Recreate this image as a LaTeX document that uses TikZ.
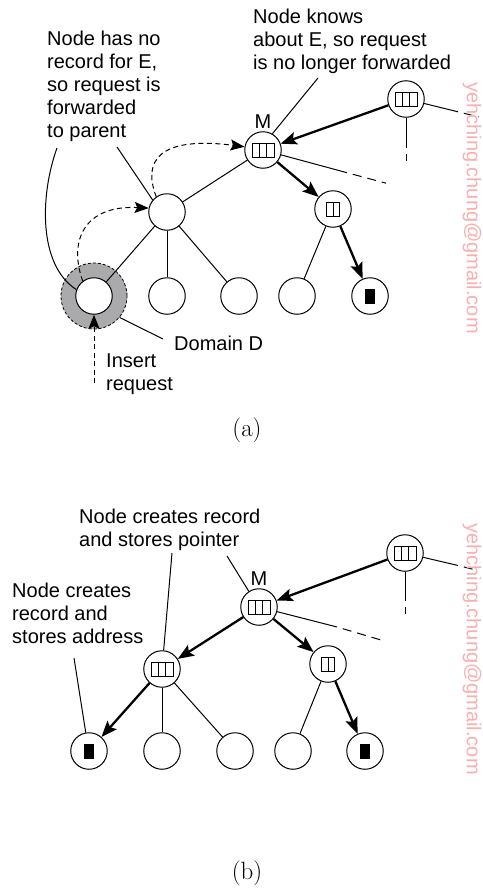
\documentclass[tikz,border=0pt]{standalone}
\usepackage{fontspec}
\newfontfamily\helv{Liberation Sans}
\usetikzlibrary{arrows.meta}
\definecolor{ringgray}{RGB}{170,170,173}
\definecolor{wmpink}{RGB}{250,175,175}
\begin{document}
\begin{tikzpicture}[x=1pt,y=-1pt,
  lbl/.style={font=\helv\fontsize{20}{23}\selectfont, inner sep=0, align=left},
  nd/.style={circle, draw, line width=1pt, fill=white, minimum size=36.5pt, inner sep=0},
  thin/.style={line width=1pt},
  tk/.style={line width=2.3pt, -{Stealth[length=16pt,width=12.5pt,inset=3pt]}},
  dsh/.style={line width=1pt, dash pattern=on 5pt off 3.5pt},
  dar/.style={dsh, -{Stealth[length=14pt,width=11pt,inset=2.5pt]}},
  tail/.style={line width=1pt, dash pattern=on 9pt off 6pt, dash phase=9pt},
  wm/.style={font=\helv\fontsize{20}{24}\selectfont, text=wmpink, rotate=-90, inner sep=0},
  captxt/.style={font=\rmfamily\fontsize{25}{29}\selectfont, inner sep=0},
  tri/.pic={\draw[line width=1pt] (-11,-7) rectangle (11,7) (-3.67,-7) -- (-3.67,7) (3.67,-7) -- (3.67,7);},
  dbl/.pic={\draw[line width=1pt] (-6.5,-7) rectangle (6.5,7) (0,-7) -- (0,7);},
  blk/.pic={\fill (-5,-7.5) rectangle (5,7.5);}
]
\useasboundingbox (0,0) rectangle (482,889);

% ================= (a) =================
\node[circle, draw, fill=ringgray, line width=0.8pt, dash pattern=on 3pt off 2pt,
      minimum size=66pt, inner sep=0] (ring) at (94,296) {};
\node[nd] (aR) at (406,99) {};  \pic at (aR) {tri};
\node[nd] (aM) at (263,150) {}; \pic at (aM) {tri};
\node[nd] (aP) at (167,212) {};
\node[nd] (aQ) at (333,209) {}; \pic at (aQ) {dbl};
\node[nd] (aL1) at (94,296) {};
\node[nd] (aL2) at (167,296) {};
\node[nd] (aL3) at (239,296) {};
\node[nd] (aL4) at (297,296) {};
\node[nd] (aL5) at (370,296) {}; \pic at (aL5) {blk};

\node[lbl, anchor=south] (aMl) at (263,129) {M};

\draw[thin] (aM) -- (aP);
\draw[thin] (aP) -- (aL1);
\draw[thin] (aP) -- (aL2);
\draw[thin] (aP) -- (aL3);
\draw[thin] (aQ) -- (aL4);
\draw[tk] (aR) -- (aM);
\draw[tk] (aM) -- (aQ);
\draw[tk] (aQ) -- (aL5);

% dangling edges
\coordinate (aMs) at (347,172.7); \coordinate (aMe) at (386,183.2);
\draw[thin] (aM) -- (aMs); \draw[tail] (aMs) -- (aMe);
\coordinate (aRs) at (458,111.8); \coordinate (aRe) at (479,117);
\draw[thin] (aR) -- (aRs); \draw[tail] (aRs) -- (aRe);
\coordinate (aRd) at (406,148); \coordinate (aRf) at (406,161);
\draw[thin] (aR) -- (aRd); \draw[tail] (aRd) -- (aRf);

% dashed request path
\draw[dar] (aL1.127) .. controls (68,240) and (85,205) .. (aP.168);
\draw[dar] (aP.125) .. controls (142,160) and (160,136) .. (aM.170);
\coordinate (ins) at (94,383);
\draw[dar] (ins) -- (aL1.south);

% texts (a)
\node[lbl, anchor=north west] (t1) at (47,31) {Node has no\\record for E,\\so request is\\forwarded\\to parent};
\node[lbl, anchor=north west] (t2) at (253,9) {Node knows\\about E, so request\\is no longer forwarded};
\node[lbl, anchor=north west] (t3) at (174,336) {Domain D};
\node[lbl, anchor=north west] (t4) at (106,354) {Insert\\request};

\coordinate (c1) at (57,148);
\draw[thin] (c1) .. controls (40,195) and (38,265) .. (aL1.160);
\coordinate (c2) at (117,147);
\draw[thin] (c2) -- (aP.140);
\coordinate (c3) at (318,78);
\draw[thin] (c3) -- (aM.60);
\coordinate (c4) at (163,339);
\draw[thin] (ring.-40) -- (c4);

\node[captxt] (capa) at (247,430) {(a)};
\node[wm] (wma) at (472,208) {yehching.chung@gmail.com};

% ================= (b) =================
\node[nd] (bR) at (405,553) {}; \pic at (bR) {tri};
\node[nd] (bM) at (259,607) {}; \pic at (bM) {tri};
\node[nd] (bP) at (162,669) {}; \pic at (bP) {tri};
\node[nd] (bQ) at (328,664) {}; \pic at (bQ) {dbl};
\node[nd] (bL1) at (89,751) {}; \pic at (bL1) {blk};
\node[nd] (bL2) at (162,751) {};
\node[nd] (bL3) at (235,751) {};
\node[nd] (bL4) at (293,751) {};
\node[nd] (bL5) at (365,751) {}; \pic at (bL5) {blk};

\node[lbl, anchor=south] (bMl) at (259,586) {M};

\draw[thin] (bP) -- (bL2);
\draw[thin] (bP) -- (bL3);
\draw[thin] (bQ) -- (bL4);
\draw[tk] (bR) -- (bM);
\draw[tk] (bM) -- (bP);
\draw[tk] (bM) -- (bQ);
\draw[tk] (bQ) -- (bL5);
\draw[tk] (bP) -- (bL1);

\coordinate (bMs) at (337,627); \coordinate (bMe) at (381,640);
\draw[thin] (bM) -- (bMs); \draw[tail] (bMs) -- (bMe);
\coordinate (bRs) at (458,565.5); \coordinate (bRe) at (478,570.5);
\draw[thin] (bR) -- (bRs); \draw[tail] (bRs) -- (bRe);
\coordinate (bRd) at (405,601); \coordinate (bRf) at (405,614);
\draw[thin] (bR) -- (bRd); \draw[tail] (bRd) -- (bRf);

\node[lbl, anchor=north west] (t5) at (79,509) {Node creates record\\and stores pointer};
\node[lbl, anchor=north west] (t6) at (12,583) {Node creates\\record and\\stores address};

\coordinate (d1) at (172,553);
\draw[thin] (d1) -- (bP.85);
\coordinate (d2) at (227,556);
\draw[thin] (d2) -- (bM.123);
\coordinate (d3) at (74,658);
\draw[thin] (d3) -- (bL1.100);

\node[captxt] (capb) at (247,873) {(b)};
\node[wm] (wmb) at (472,649) {yehching.chung@gmail.com};
\end{tikzpicture}
\end{document}
